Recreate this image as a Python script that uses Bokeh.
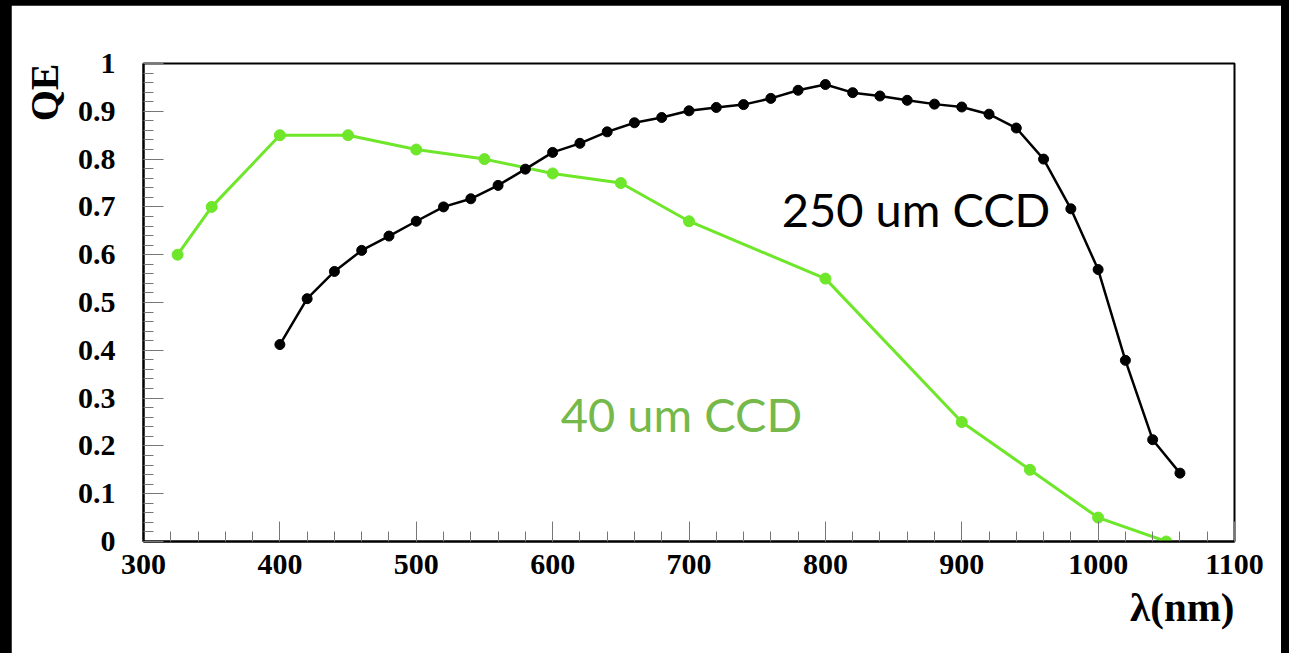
import numpy as np
from bokeh.plotting import figure
from bokeh.models import FixedTicker, Title, Range1d
from bokeh.layouts import column
from bokeh.core.properties import value
from bokeh.embed import file_html
from bokeh.resources import INLINE

# ---- data ----
ccd250_wavelength = [400, 420, 440, 460, 480, 500, 520, 540, 560, 580, 600, 620, 640, 660,
                     680, 700, 720, 740, 760, 780, 800, 820, 840, 860, 880, 900, 920, 940,
                     960, 980, 1000, 1020, 1040, 1060]
ccd250_qe = [0.412, 0.508, 0.565, 0.609, 0.639, 0.670, 0.700, 0.717, 0.745, 0.779, 0.814, 0.833,
             0.857, 0.876, 0.887, 0.901, 0.908, 0.914, 0.927, 0.944, 0.956, 0.939, 0.932, 0.923,
             0.915, 0.909, 0.894, 0.865, 0.800, 0.696, 0.569, 0.379, 0.213, 0.143]

ccd40_wavelength = [325, 350, 400, 450, 500, 550, 600, 650, 700, 800, 900, 950, 1000, 1050]
ccd40_qe = [0.60, 0.70, 0.85, 0.85, 0.82, 0.80, 0.77, 0.75, 0.67, 0.55, 0.25, 0.15, 0.05, 0.0]

x_tick_values = [300, 400, 500, 600, 700, 800, 900, 1000, 1100]
x_tick_labels = ["300", "400", "500", "600", "700", "800", "900", "1000", "1100"]
y_tick_values = [0, 0.1, 0.2, 0.3, 0.4, 0.5, 0.6, 0.7, 0.8, 0.9, 1]
y_tick_labels = ["0", "0.1", "0.2", "0.3", "0.4", "0.5", "0.6", "0.7", "0.8", "0.9", "1"]

label_texts = ["250 um CCD", "40 um CCD"]
label_x = [768, 606]
label_y = [0.695, 0.266]

y_title = "QE"
x_title = "λ(nm)"

GREEN = "#6EE62A"
GREEN_TEXT = "#74B94A"
SERIF = "Liberation Serif"

p = figure(width=1270, height=648, output_backend="svg", toolbar_location=None,
           x_range=Range1d(300, 1100), y_range=Range1d(0, 1),
           min_border_left=132, min_border_top=58, min_border_right=47, min_border_bottom=112,
           background_fill_color="white", border_fill_color="white")
p.margin = (5, 8, 0, 11)
p.grid.visible = False
p.outline_line_color = "black"
p.outline_line_width = 2

p.xaxis.ticker = FixedTicker(ticks=x_tick_values, minor_ticks=list(np.arange(300, 1101, 20)))
p.yaxis.ticker = FixedTicker(ticks=y_tick_values, minor_ticks=list(np.round(np.arange(0, 1.001, 0.02), 2)))
p.xaxis.major_label_overrides = {v: s for v, s in zip(x_tick_values, x_tick_labels)}
p.yaxis.major_label_overrides = {v: s for v, s in zip(y_tick_values, y_tick_labels)}

for ax in (p.xaxis[0], p.yaxis[0]):
    ax.axis_line_color = "black"
    ax.axis_line_width = 2
    ax.major_tick_in = 20
    ax.major_tick_out = 0
    ax.minor_tick_in = 10
    ax.minor_tick_out = 0
    ax.major_tick_line_color = "#777777"
    ax.minor_tick_line_color = "#777777"
    ax.major_tick_line_width = 1
    ax.minor_tick_line_width = 1
    ax.major_label_text_font = SERIF
    ax.major_label_text_font_style = "bold"
    ax.major_label_text_font_size = "30px"
    ax.major_label_text_color = "black"

p.yaxis.major_label_standoff = 28
p.xaxis.major_label_standoff = 13

p.add_layout(Title(text=y_title, align="right", text_font=SERIF, text_font_style="bold",
                   text_font_size="40px", text_color="black", standoff=16), "left")
p.add_layout(Title(text=x_title, align="right", text_font=SERIF, text_font_style="bold",
                   text_font_size="41px", text_color="black", standoff=10), "below")

p.line(ccd40_wavelength, ccd40_qe, line_color=GREEN, line_width=3)
p.scatter(ccd40_wavelength, ccd40_qe, size=11, fill_color=GREEN, line_color=GREEN)
p.line(ccd250_wavelength, ccd250_qe, line_color="black", line_width=2.5)
p.scatter(ccd250_wavelength, ccd250_qe, size=10, fill_color="black", line_color="black")

p.text(x=label_x[:1], y=label_y[:1], text=label_texts[:1], text_font=value("Lato"),
       text_font_size="47px", text_color="black", text_baseline="alphabetic")
p.text(x=label_x[1:], y=label_y[1:], text=label_texts[1:], text_font=value("Lato"),
       text_font_size="47px", text_color=GREEN_TEXT, text_baseline="alphabetic")

layout = column(p, width=1289, height=653, styles={"background-color": "black"})

open("out.html", "w").write(file_html(layout, INLINE))
